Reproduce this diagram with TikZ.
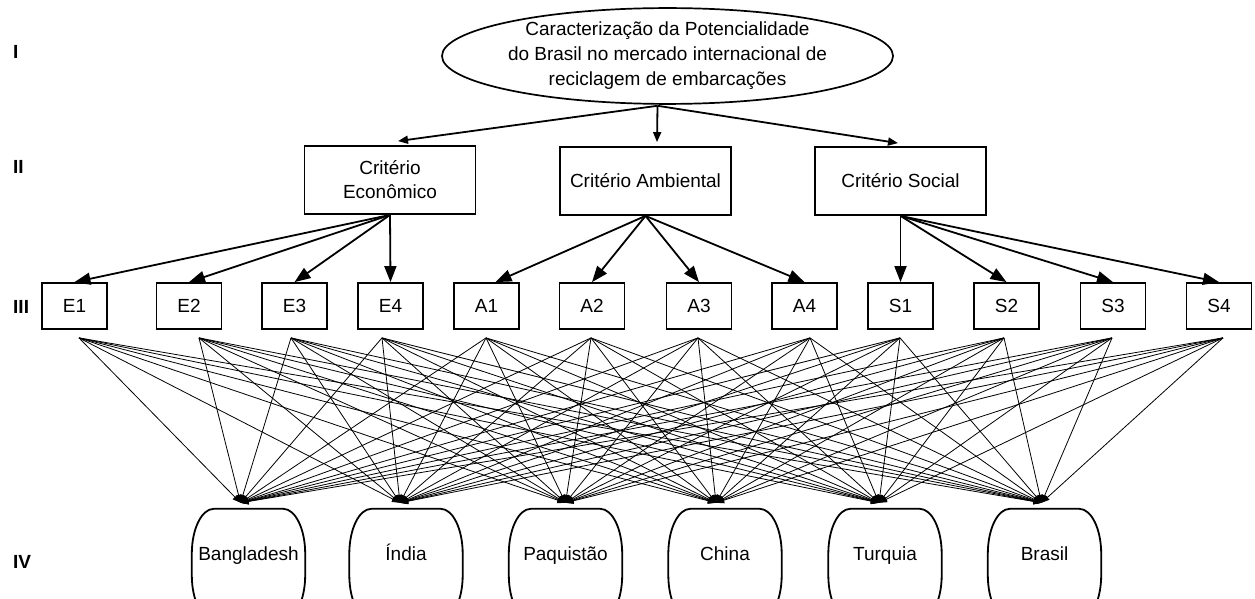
\documentclass[tikz,border=0pt]{standalone}
\usepackage{fontspec}
\setmainfont{Liberation Sans}
\usetikzlibrary{shapes.geometric,arrows.meta,calc}

\begin{document}
\begin{tikzpicture}[x=1pt,y=-1pt,
  every node/.style={font=\fontsize{19}{25}\selectfont, inner sep=0pt, align=center},
  goal/.style={ellipse, draw, line width=1.7pt, minimum width=361pt, minimum height=92pt},
  crit/.style={rectangle, draw, line width=1.8pt, minimum width=171pt, minimum height=68pt},
  subc/.style={rectangle, draw, line width=1.8pt, minimum width=65pt, minimum height=46pt},
  alt/.style={minimum width=113pt, minimum height=88pt, text height=18pt, text depth=4pt},
  altline/.style={line width=1.8pt},
  lvl/.style={font=\fontsize{19}{19}\selectfont\bfseries, anchor=west},
  toparrow/.style={line width=1.8pt, -{Triangle[length=10pt,width=8pt]}},
  subarrow/.style={line width=1.8pt, -{Triangle[length=16pt,width=12pt]}},
  link/.style={line width=0.8pt, -{Triangle[length=8pt,width=6pt]}},
]
\useasboundingbox (0,0) rectangle (1255,599);
\fill[white] (0,0) rectangle (1255,599);
\clip (0,0) rectangle (1255,599);

% level labels
\node[lvl] (l1) at (13,52) {I};
\node[lvl] (l2) at (13,167) {II};
\node[lvl] (l3) at (13,307) {III};
\node[lvl] (l4) at (13,562) {IV};

% level I: goal
\node[goal] (goal) at (667.5,56) {Caracterização da Potencialidade\\do Brasil no mercado internacional de\\reciclagem de embarcações};

% level II: criteria
\node[crit, font=\fontsize{19}{24}\selectfont] (eco) at (390,180) {Critério\\Econômico};
\node[crit] (amb) at (645.5,181) {Critério Ambiental};
\node[crit] (soc) at (900.5,181) {Critério Social};

% level III: sub-criteria
\foreach \n/\x in {E1/74.5,E2/189,E3/294.5,E4/390.5,A1/486.5,A2/592,A3/699,A4/804.5,S1/900.5,S2/1006.5,S3/1113,S4/1219}
  \node[subc] (\n) at (\x,306) {\n};

% level IV: alternatives
\foreach \n/\x/\t in {bd/248.5/Bangladesh,in/406/Índia,pk/565.5/Paquistão,cn/725/China,tr/885/Turquia,br/1044.5/Brasil}
{
  \node[alt] (\n) at (\x,553) {\t};
  \draw[altline] ($(\n.north west)+(0,45)$) arc[start angle=180,end angle=90,x radius=22pt,y radius=45pt]
    -- ($(\n.north east)+(-22,0)$) arc[start angle=90,end angle=0,x radius=22pt,y radius=45pt]
    -- ($(\n.south east)+(0,-22)$) arc[start angle=0,end angle=-90,x radius=22pt,y radius=45pt]
    -- ($(\n.south west)+(22,23)$) arc[start angle=270,end angle=180,x radius=22pt,y radius=45pt]
    -- cycle;
}

% goal -> criteria
\coordinate (gs) at ($(goal.south)+(-10,1)$);
\draw[toparrow] (gs) -- ($(eco.north)+(8,-4)$);
\draw[toparrow] (gs) -- ($(amb.north)+(11.5,-4)$);
\draw[toparrow] (gs) -- ($(soc.north)+(-2.5,-3)$);

% criteria -> sub-criteria
\foreach \s in {E1,E2,E3,E4} \draw[subarrow] (eco.south) -- (\s.north);
\draw[subarrow] (amb.south) -- ($(A1.north)+(9,0)$);
\foreach \s in {A2,A3,A4} \draw[subarrow] (amb.south) -- (\s.north);
\foreach \s in {S1,S2,S3,S4} \draw[subarrow] (soc.south) -- (\s.north);

% sub-criteria -> alternatives
\foreach \s/\dx in {E1/4.5,E2/10,E3/-3.5,E4/-8.5,A1/-0.5,A2/-1,A3/-1,A4/5.5,S1/-0.5,S2/-2.5,S3/-1,S4/4}
  \coordinate (\s o) at ($(\s.south)+(\dx,8)$);
\foreach \t/\dx in {bd/-8,in/-6,pk/0,cn/-9,tr/-6,br/-3}
  \coordinate (\t i) at ($(\t.north)+(\dx,-6)$);
\foreach \s in {E1,E2,E3,E4,A1,A2,A3,A4,S1,S2,S3,S4}
  \foreach \t in {bd,in,pk,cn,tr,br}
    \draw[link] (\s o) -- (\t i);
\end{tikzpicture}
\end{document}
